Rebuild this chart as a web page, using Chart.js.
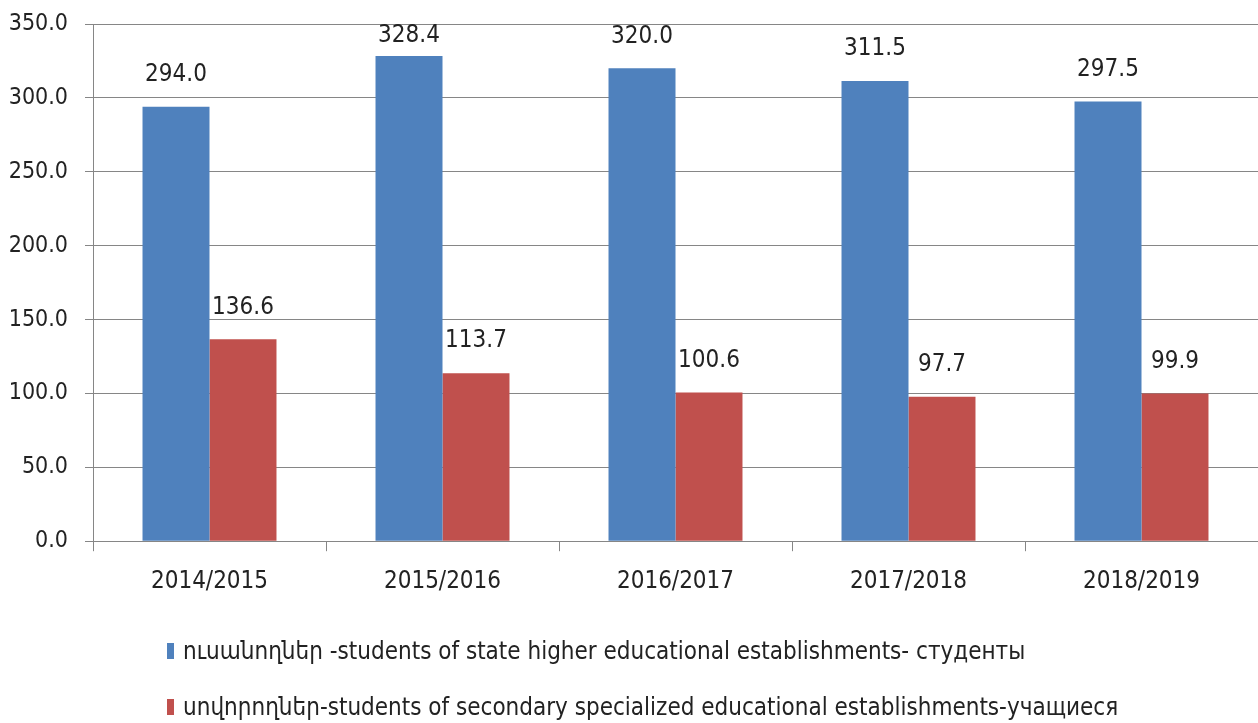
<!DOCTYPE html>
<html>
<head>
<meta charset="utf-8">
<script src="https://cdn.jsdelivr.net/npm/chart.js@4"></script>
<style>
  html, body { margin: 0; padding: 0; background: #fff; }
  #wrap { position: relative; width: 1258px; height: 723px; }
  #legend { position: absolute; left: 167px; top: 636px; font-family: "DejaVu Sans Condensed", sans-serif; font-size: 24px; color: #222; }
  .item { display: flex; align-items: center; height: 30px; margin-bottom: 26px; white-space: nowrap; }
  .sw { width: 7px; height: 16px; margin-right: 9px; }
</style>
</head>
<body>
<div id="wrap">
  <canvas id="chart" width="1258" height="723"></canvas>
  <div id="legend"></div>
</div>
<script>
var FONT = '"DejaVu Sans Condensed", sans-serif';

// ─── Data ─────────────────────────────────────────────────────────────────────

var years = ['2014/2015', '2015/2016', '2016/2017', '2017/2018', '2018/2019'];
var higherStudents = [294.0, 328.4, 320.0, 311.5, 297.5];
var secondaryStudents = [136.6, 113.7, 100.6, 97.7, 99.9];
var seriesNames = [
    'ուսանողներ -students of state higher educational establishments- студенты',
    'սովորողներ-students of secondary specialized educational establishments-учащиеся'
];
var seriesColors = ['#4F81BD', '#C0504D'];

// ─── Value labels above bars (kept inside the plot area) ──────────────────────

var valueLabels = {
    id: 'valueLabels',
    afterDatasetsDraw(chart) {
        const ctx = chart.ctx;
        const minY = chart.chartArea.top + 24;
        ctx.save();
        ctx.font = '24px ' + FONT;
        ctx.fillStyle = '#222';
        ctx.textAlign = 'center';
        ctx.textBaseline = 'bottom';
        chart.data.datasets.forEach((ds, i) => {
            chart.getDatasetMeta(i).data.forEach((bar, j) => {
                ctx.fillText(ds.data[j].toFixed(1), bar.x, Math.max(bar.y - 20, minY));
            });
        });
        ctx.restore();
    }
};

var chart = new Chart(document.getElementById('chart'), {
    type: 'bar',
    data: {
        labels: years,
        datasets: [
            { label: seriesNames[0], data: higherStudents, backgroundColor: seriesColors[0] },
            { label: seriesNames[1], data: secondaryStudents, backgroundColor: seriesColors[1] }
        ]
    },
    options: {
        responsive: false,
        animation: false,
        layout: { padding: { top: 24, right: 0, bottom: 111, left: 0 } },
        datasets: { bar: { categoryPercentage: 0.575, barPercentage: 1.0 } },
        plugins: { legend: { display: false }, tooltip: { enabled: false } },
        scales: {
            x: {
                grid: { offset: true, drawOnChartArea: false, drawTicks: true, tickLength: 10, color: '#868686' },
                border: { color: '#868686' },
                ticks: { color: '#222', font: { family: FONT, size: 24 }, padding: 16 }
            },
            y: {
                min: 0, max: 350,
                afterFit(scale) { scale.width = 93; scale.paddingTop = 0; scale.paddingBottom = 0; },
                grid: { color: '#868686', tickLength: 8 },
                border: { color: '#868686' },
                ticks: {
                    stepSize: 50,
                    color: '#222',
                    font: { family: FONT, size: 23 },
                    padding: 17,
                    callback: v => v.toFixed(1)
                }
            }
        }
    },
    plugins: [valueLabels]
});

// ─── Legend ───────────────────────────────────────────────────────────────────

var legendEl = document.getElementById('legend');
chart.data.datasets.forEach(ds => {
    legendEl.insertAdjacentHTML('beforeend',
        `<div class="item"><span class="sw" style="background:${ds.backgroundColor}"></span>${ds.label}</div>`);
});
</script>
</body>
</html>
